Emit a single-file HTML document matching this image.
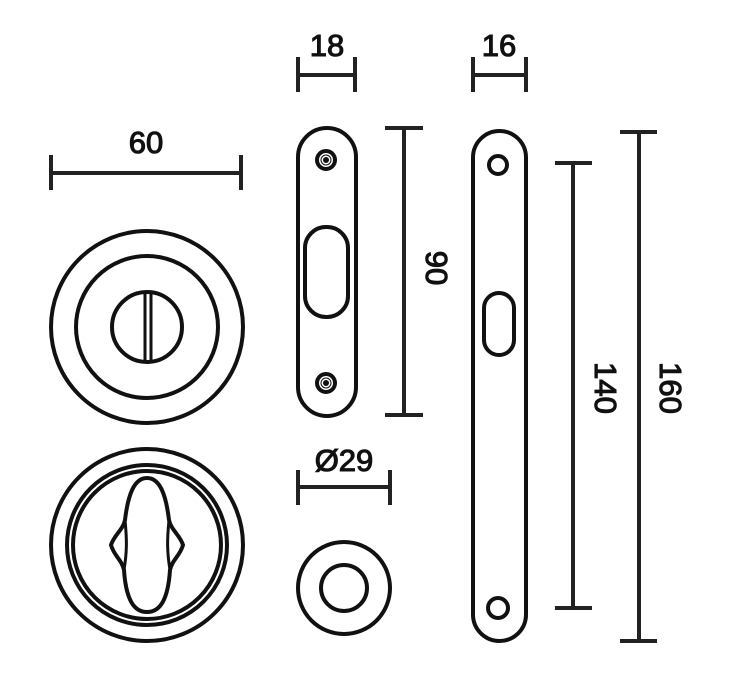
<!DOCTYPE html>
<html><head><style>html,body{margin:0;padding:0;background:#fff}svg{display:block}</style></head><body>
<svg width="730" height="700" viewBox="0 0 730 700" xmlns="http://www.w3.org/2000/svg">
<g fill="none" stroke="#111" stroke-width="4">
<circle cx="147" cy="327" r="96"/>
<circle cx="147" cy="327" r="71"/>
<circle cx="147" cy="327" r="35"/>
<line x1="145" y1="292" x2="145" y2="362" stroke-width="3"/>
<line x1="151" y1="292" x2="151" y2="362" stroke-width="3"/>
<circle cx="147" cy="545" r="96"/>
<circle cx="147" cy="545" r="80"/>
<circle cx="147" cy="545" r="74"/>
<path d="M147 478 C160 478 166 495 169 520 C171 530 180 535 183 545 C180 556 172 560 170 570 C168 600 160 612 147 612 C134 612 126 600 124 570 C122 560 114 556 111 545 C114 535 123 530 125 520 C128 495 134 478 147 478 Z"/>
<path d="M125 520 C127 540 127 552 124 570" stroke-width="3"/>
<path d="M169 520 C167 540 167 552 170 570" stroke-width="3"/>
<rect x="298" y="128" width="58" height="288" rx="29"/>
<rect x="305" y="227" width="43" height="90" rx="21"/>
<circle cx="326" cy="160" r="9"/><circle cx="326" cy="160" r="5" stroke-width="1"/>
<circle cx="326" cy="383" r="9"/><circle cx="326" cy="383" r="5" stroke-width="1"/>
<rect x="473" y="131" width="53" height="510" rx="26.5"/>
<circle cx="498" cy="165" r="9"/>
<rect x="484" y="293" width="30" height="62" rx="15"/>
<circle cx="498" cy="608" r="10"/>
<circle cx="344" cy="588" r="46"/>
<circle cx="344" cy="588" r="23"/>
</g>
<circle cx="326" cy="160" r="3" fill="#111"/><circle cx="326" cy="383" r="3" fill="#111"/>
<g stroke="#222" stroke-width="4" fill="none">
<line x1="51" y1="173" x2="241" y2="173"/><line x1="51" y1="155" x2="51" y2="190"/><line x1="241" y1="155" x2="241" y2="190"/>
<line x1="298" y1="75" x2="355" y2="75"/><line x1="298" y1="57" x2="298" y2="92"/><line x1="355" y1="57" x2="355" y2="92"/>
<line x1="473" y1="75" x2="526" y2="75"/><line x1="473" y1="57" x2="473" y2="92"/><line x1="526" y1="57" x2="526" y2="92"/>
<line x1="298" y1="487" x2="390" y2="487"/><line x1="298" y1="470" x2="298" y2="505"/><line x1="390" y1="470" x2="390" y2="505"/>
<line x1="404" y1="128" x2="404" y2="415"/><line x1="385" y1="128" x2="423" y2="128"/><line x1="385" y1="415" x2="423" y2="415"/>
<line x1="573" y1="163" x2="573" y2="608"/><line x1="555" y1="163" x2="592" y2="163"/><line x1="555" y1="608" x2="592" y2="608"/>
<line x1="639" y1="132" x2="639" y2="641"/><line x1="620" y1="132" x2="657" y2="132"/><line x1="620" y1="641" x2="657" y2="641"/>
</g>
<g font-family="Liberation Sans, sans-serif" font-size="31" fill="#111" stroke="#111" stroke-width="1.1" text-anchor="middle">
<text x="146" y="153">60</text>
<text x="327" y="56">18</text>
<text x="499" y="56">16</text>
<text x="344" y="471">Ø29</text>
<text transform="translate(426,268) rotate(90)">90</text>
<text transform="translate(595,388) rotate(90)">140</text>
<text transform="translate(660,388) rotate(90)">160</text>
</g>
</svg>
</body></html>
